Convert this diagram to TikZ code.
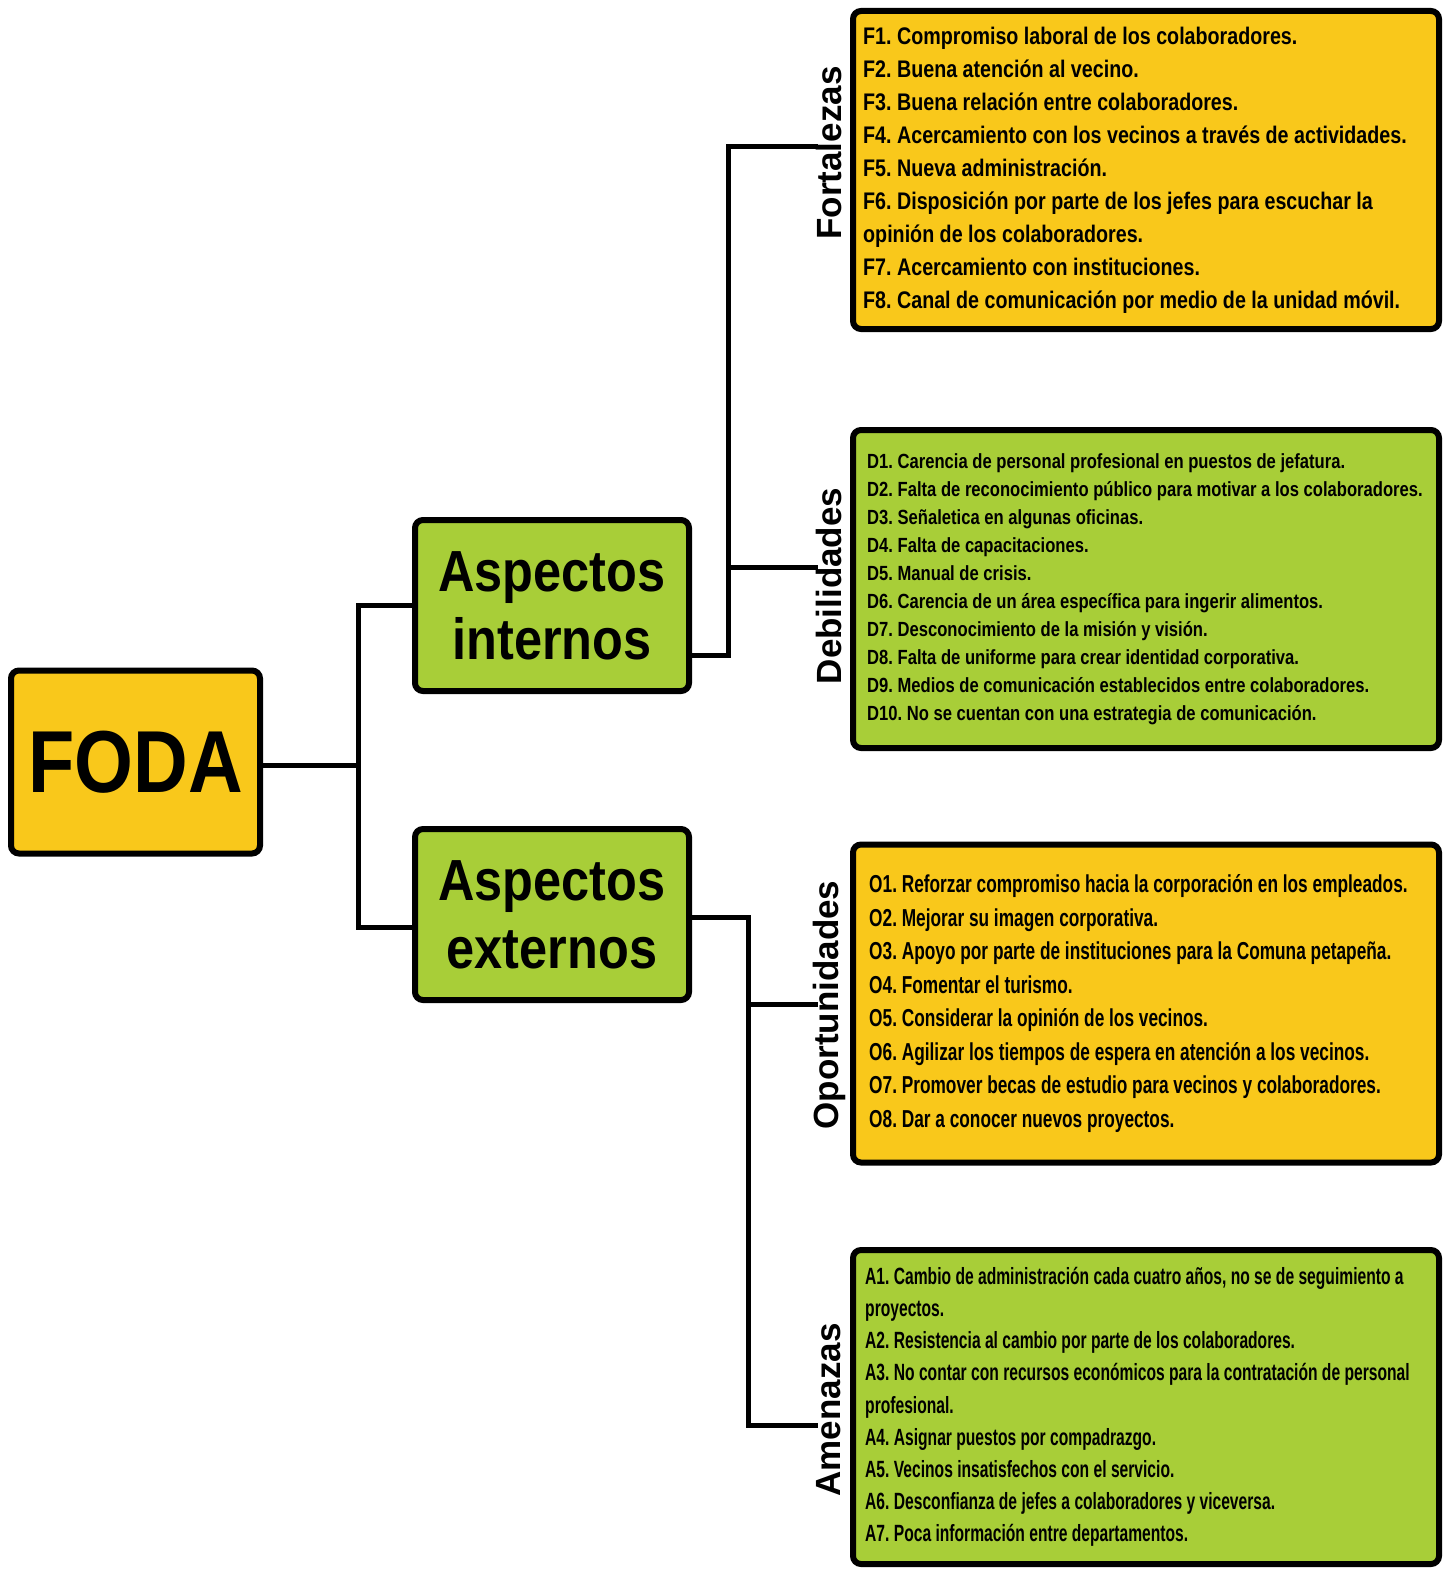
\documentclass[tikz,border=0pt]{standalone}
\usepackage{fontspec}
\setmainfont{Liberation Sans}
\newfontfamily\fontFoda{Liberation Sans}[FakeStretch=0.86]
\newfontfamily\fontAsp{Liberation Sans}[FakeStretch=0.87]
\newfontfamily\fontF{Liberation Sans}[FakeStretch=0.82]
\newfontfamily\fontD{Liberation Sans}[FakeStretch=0.81]
\newfontfamily\fontO{Liberation Sans}[FakeStretch=0.705]
\newfontfamily\fontA{Liberation Sans}[FakeStretch=0.665]
\definecolor{fyellow}{RGB}{249,200,27}
\definecolor{fgreen}{RGB}{168,206,56}
\frenchspacing
\tikzset{
  box/.style={draw=black, line width=6pt, rounded corners=8pt, inner sep=0pt},
  conn/.style={draw=black, line width=5pt, line cap=rect},
  sidelab/.style={rotate=90, inner sep=0pt, font=\fontsize{35}{40}\selectfont\bfseries},
  listtxt/.style={anchor=west, align=left, inner sep=0pt},
}
\begin{document}
\begin{tikzpicture}[x=1pt,y=-1pt]
\useasboundingbox (0,0) rectangle (1447,1570);
% connector junctions and free ends
\coordinate (j0) at (358,765);
\coordinate (j1) at (728,655);
\coordinate (j2) at (748,917);
\coordinate (fend) at (815,147);
\coordinate (dend) at (815,567);
\coordinate (oend) at (815,1004);
\coordinate (aend) at (815,1425);

% main boxes
\node[box, fill=fyellow, minimum width=249pt, minimum height=183pt,
      font=\fontsize{88}{90}\selectfont\fontFoda\bfseries] (foda) at (135.5,762) {FODA};
\node[box, fill=fgreen, minimum width=274pt, minimum height=171pt, align=center,
      font=\fontsize{58}{68}\selectfont\fontAsp\bfseries] (intern) at (552,605.5) {Aspectos\\internos};
\node[box, fill=fgreen, minimum width=274pt, minimum height=171pt, align=center,
      font=\fontsize{58}{68}\selectfont\fontAsp\bfseries] (extern) at (552,914.5) {Aspectos\\externos};

% list boxes
\node[box, fill=fyellow, minimum width=586pt, minimum height=318pt] (fbox) at (1146,170) {};
\node[box, fill=fgreen, minimum width=586pt, minimum height=318pt] (dbox) at (1146,589) {};
\node[box, fill=fyellow, minimum width=586pt, minimum height=318pt] (obox) at (1146,1003.5) {};
\node[box, fill=fgreen, minimum width=586pt, minimum height=314pt] (abox) at (1146,1407) {};

% connectors
\draw[conn] (foda.east |- j0) -- (j0);
\draw[conn] (intern.west) -| (j0);
\draw[conn] ([yshift=-13pt]extern.west) -| (j0);
\draw[conn] (intern.east |- j1) -- (j1) |- (fend);
\draw[conn] (j1 |- dend) -- (dend);
\draw[conn] (extern.east |- j2) -- (j2) |- (aend);
\draw[conn] (j2 |- oend) -- (oend);

% side labels
\node[sidelab] (flab) at (829,153) {Fortalezas};
\node[sidelab] (dlab) at (829,586) {Debilidades};
\node[sidelab] (olab) at (829,1005) {Oportunidades};
\node[sidelab] (alab) at (829,1410) {Amenazas};

% list texts
\node[listtxt, font=\fontsize{24}{33}\selectfont\fontF\bfseries] (ftxt) at ([xshift=13pt]fbox.west) {%
F1. Compromiso laboral de los colaboradores.\\
F2. Buena atención al vecino.\\
F3. Buena relación entre colaboradores.\\
F4. Acercamiento con los vecinos a través de actividades.\\
F5. Nueva administración.\\
F6. Disposición por parte de los jefes para escuchar la\\
opinión de los colaboradores.\\
F7. Acercamiento con instituciones.\\
F8. Canal de comunicación por medio de la unidad móvil.};

\node[listtxt, font=\fontsize{20.5}{28}\selectfont\fontD\bfseries] (dtxt) at ([xshift=17pt]dbox.west) {%
D1. Carencia de personal profesional en puestos de jefatura.\\
D2. Falta de reconocimiento público para motivar a los colaboradores.\\
D3. Señaletica en algunas oficinas.\\
D4. Falta de capacitaciones.\\
D5. Manual de crisis.\\
D6. Carencia de un área específica para ingerir alimentos.\\
D7. Desconocimiento de la misión y visión.\\
D8. Falta de uniforme para crear identidad corporativa.\\
D9. Medios de comunicación establecidos entre colaboradores.\\
D10. No se cuentan con una estrategia de comunicación.};

\node[listtxt, font=\fontsize{24.5}{33.5}\selectfont\fontO\bfseries] (otxt) at ([xshift=19pt]obox.west) {%
O1. Reforzar compromiso hacia la corporación en los empleados.\\
O2. Mejorar su imagen corporativa.\\
O3. Apoyo por parte de instituciones para la Comuna petapeña.\\
O4. Fomentar el turismo.\\
O5. Considerar la opinión de los vecinos.\\
O6. Agilizar los tiempos de espera en atención a los vecinos.\\
O7. Promover becas de estudio para vecinos y colaboradores.\\
O8. Dar a conocer nuevos proyectos.};

\node[listtxt, font=\fontsize{23.5}{32.2}\selectfont\fontA\bfseries] (atxt) at ([xshift=15pt]abox.west) {%
A1. Cambio de administración cada cuatro años, no se de seguimiento a\\
proyectos.\\
A2. Resistencia al cambio por parte de los colaboradores.\\
A3. No contar con recursos económicos para la contratación de personal\\
profesional.\\
A4. Asignar puestos por compadrazgo.\\
A5. Vecinos insatisfechos con el servicio.\\
A6. Desconfianza de jefes a colaboradores y viceversa.\\
A7. Poca información entre departamentos.};
\end{tikzpicture}
\end{document}
